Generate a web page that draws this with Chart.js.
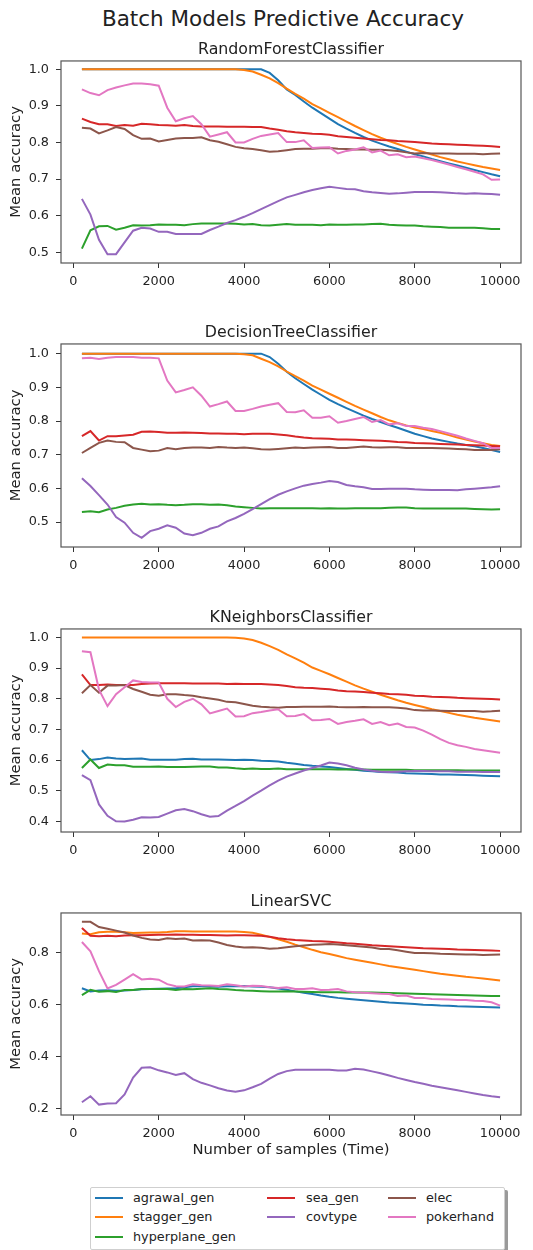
<!DOCTYPE html>
<html>
<head>
<meta charset="utf-8">
<script src="https://cdn.jsdelivr.net/npm/chart.js@4.4.1/dist/chart.umd.min.js"></script>
<style>
  html, body { margin: 0; padding: 0; background: #fff; }
  body { position: relative; width: 533px; height: 1250px; overflow: hidden; font-family: "DejaVu Sans", sans-serif; color: #222; }
  #suptitle { position: absolute; left: 0; top: 6px; width: 566px; text-align: center; font-size: 21.5px; line-height: 25px; }
  #legend { position: absolute; left: 90px; top: 1187px; width: 413px; height: 61px; border: 1px solid #cfcfcf; border-radius: 2px; box-shadow: 3px 3px 0 #9a9a9a; background: #fff; }
  .item { position: absolute; font-size: 12.8px; line-height: 16px; white-space: nowrap; }
  .swatch { position: absolute; width: 28px; height: 2px; }
</style>
</head>
<body>
<div id="suptitle">Batch Models Predictive Accuracy</div>
<div id="legend"></div>
<script>
// Four stacked panels (one per classifier), seven streams each, sampled every 200 rows.
const SAMPLES = [200, 400, 600, 800, 1000, 1200, 1400, 1600, 1800, 2000,
  2200, 2400, 2600, 2800, 3000, 3200, 3400, 3600, 3800, 4000,
  4200, 4400, 4600, 4800, 5000, 5200, 5400, 5600, 5800, 6000,
  6200, 6400, 6600, 6800, 7000, 7200, 7400, 7600, 7800, 8000,
  8200, 8400, 8600, 8800, 9000, 9200, 9400, 9600, 9800, 10000];
const STREAMS = ["agrawal_gen", "stagger_gen", "hyperplane_gen", "sea_gen", "covtype", "elec", "pokerhand"];
const X_TICKS = [0, 2000, 4000, 6000, 8000, 10000];

// RandomForestClassifier
const rfAgrawal = [1, 1, 1, 1, 1, 1, 1, 1, 1, 1, 1, 1, 1, 1, 1, 1, 1, 1, 1, 1, 1, 1,
  0.99, 0.97, 0.945, 0.93, 0.912, 0.895, 0.88, 0.865, 0.85, 0.838, 0.826, 0.815, 0.805, 0.797,
  0.789, 0.782, 0.775, 0.768, 0.762, 0.755, 0.749, 0.743, 0.737, 0.731, 0.725, 0.719, 0.713, 0.708];
const rfStagger = [1, 1, 1, 1, 1, 1, 1, 1, 1, 1, 1, 1, 1, 1, 1, 1, 1, 1, 1,
  0.998, 0.994, 0.985, 0.975, 0.962, 0.947, 0.933, 0.92, 0.905, 0.893, 0.881, 0.869, 0.857, 0.845,
  0.834, 0.823, 0.813, 0.804, 0.796, 0.788, 0.781, 0.774, 0.767, 0.76, 0.754, 0.748, 0.743, 0.738,
  0.733, 0.729, 0.725];
const rfHyperplane = [0.51, 0.56, 0.571, 0.572, 0.562, 0.567, 0.574, 0.573, 0.574, 0.576,
  0.575, 0.575, 0.574, 0.577, 0.579, 0.579, 0.579, 0.579, 0.578, 0.576,
  0.577, 0.574, 0.573, 0.575, 0.577, 0.575, 0.575, 0.575, 0.574, 0.576,
  0.575, 0.575, 0.576, 0.576, 0.577, 0.578, 0.575, 0.574, 0.573, 0.573,
  0.571, 0.57, 0.569, 0.567, 0.567, 0.567, 0.567, 0.566, 0.564, 0.564];
const rfSea = [0.865, 0.856, 0.85, 0.85, 0.845, 0.848, 0.846, 0.851, 0.85, 0.848,
  0.847, 0.846, 0.848, 0.845, 0.844, 0.844, 0.844, 0.843, 0.843, 0.843,
  0.842, 0.842, 0.838, 0.835, 0.831, 0.828, 0.826, 0.824, 0.823, 0.821,
  0.817, 0.815, 0.813, 0.811, 0.809, 0.807, 0.806, 0.804, 0.803, 0.801,
  0.799, 0.797, 0.796, 0.795, 0.794, 0.793, 0.792, 0.791, 0.79, 0.788];
const rfCovtype = [0.646, 0.603, 0.534, 0.495, 0.495, 0.527, 0.559, 0.567, 0.565, 0.556,
  0.556, 0.55, 0.55, 0.55, 0.55, 0.561, 0.57, 0.58, 0.588, 0.597,
  0.607, 0.618, 0.629, 0.64, 0.65, 0.657, 0.664, 0.67, 0.675, 0.679,
  0.676, 0.673, 0.672, 0.667, 0.664, 0.662, 0.66, 0.661, 0.663, 0.665,
  0.665, 0.665, 0.664, 0.663, 0.661, 0.66, 0.661, 0.66, 0.659, 0.657];
const rfElec = [0.84, 0.838, 0.825, 0.833, 0.842, 0.837, 0.82, 0.81, 0.811, 0.803,
  0.807, 0.811, 0.812, 0.812, 0.814, 0.806, 0.802, 0.795, 0.788, 0.784,
  0.782, 0.779, 0.775, 0.776, 0.779, 0.782, 0.783, 0.783, 0.784, 0.785,
  0.783, 0.782, 0.781, 0.781, 0.78, 0.78, 0.779, 0.777, 0.773, 0.77,
  0.771, 0.77, 0.77, 0.77, 0.769, 0.769, 0.769, 0.768, 0.769, 0.77];
const rfPoker = [0.945, 0.935, 0.929, 0.943, 0.95, 0.956, 0.961, 0.961, 0.959, 0.955,
  0.895, 0.858, 0.866, 0.872, 0.85, 0.816, 0.822, 0.828, 0.8, 0.8,
  0.81, 0.818, 0.822, 0.826, 0.801, 0.801, 0.806, 0.785, 0.786, 0.787,
  0.77, 0.777, 0.781, 0.787, 0.773, 0.778, 0.765, 0.768, 0.76, 0.762,
  0.757, 0.752, 0.746, 0.74, 0.733, 0.727, 0.72, 0.713, 0.698, 0.699];

// DecisionTreeClassifier
const dtAgrawal = [1, 1, 1, 1, 1, 1, 1, 1, 1, 1, 1, 1, 1, 1, 1, 1, 1, 1, 1, 1, 1, 1,
  0.99, 0.97, 0.946, 0.927, 0.91, 0.893, 0.878, 0.863, 0.85, 0.838, 0.827, 0.816, 0.806, 0.797,
  0.788, 0.78, 0.771, 0.762, 0.755, 0.748, 0.743, 0.738, 0.733, 0.729, 0.725, 0.72, 0.714, 0.708];
const dtStagger = [1, 1, 1, 1, 1, 1, 1, 1, 1, 1, 1, 1, 1, 1, 1, 1, 1, 1, 1,
  0.998, 0.995, 0.985, 0.975, 0.962, 0.947, 0.933, 0.92, 0.905, 0.893, 0.881, 0.869, 0.857, 0.845,
  0.834, 0.823, 0.812, 0.802, 0.794, 0.787, 0.781, 0.776, 0.77, 0.765, 0.758, 0.751, 0.745, 0.739,
  0.734, 0.729, 0.726];
const dtHyperplane = [0.53, 0.532, 0.529, 0.537, 0.542, 0.548, 0.552, 0.554, 0.552, 0.553,
  0.551, 0.55, 0.551, 0.553, 0.553, 0.551, 0.552, 0.55, 0.546, 0.544,
  0.542, 0.54, 0.541, 0.541, 0.541, 0.541, 0.541, 0.541, 0.54, 0.541,
  0.54, 0.54, 0.541, 0.541, 0.541, 0.541, 0.542, 0.543, 0.543, 0.541,
  0.54, 0.54, 0.54, 0.54, 0.54, 0.54, 0.539, 0.538, 0.537, 0.538];
const dtSea = [0.755, 0.77, 0.742, 0.755, 0.755, 0.757, 0.759, 0.768, 0.769, 0.767,
  0.765, 0.765, 0.766, 0.765, 0.764, 0.763, 0.763, 0.762, 0.762, 0.761,
  0.762, 0.762, 0.762, 0.76, 0.758, 0.754, 0.751, 0.749, 0.748, 0.747,
  0.745, 0.745, 0.744, 0.743, 0.742, 0.741, 0.74, 0.738, 0.737, 0.735,
  0.734, 0.733, 0.732, 0.731, 0.73, 0.729, 0.728, 0.727, 0.726, 0.725];
const dtCovtype = [0.63, 0.607, 0.58, 0.552, 0.515, 0.498, 0.468, 0.453, 0.473, 0.48,
  0.49, 0.483, 0.466, 0.461, 0.468, 0.48, 0.487, 0.502, 0.512, 0.524,
  0.538, 0.553, 0.568, 0.581, 0.591, 0.6, 0.608, 0.613, 0.617, 0.622,
  0.619, 0.61, 0.606, 0.603, 0.598, 0.598, 0.599, 0.599, 0.599, 0.597,
  0.596, 0.595, 0.595, 0.595, 0.594, 0.597, 0.599, 0.601, 0.603, 0.606];
const dtElec = [0.705, 0.72, 0.735, 0.742, 0.738, 0.737, 0.72, 0.715, 0.71, 0.712,
  0.72, 0.716, 0.72, 0.721, 0.721, 0.72, 0.723, 0.721, 0.72, 0.721,
  0.719, 0.716, 0.715, 0.717, 0.719, 0.721, 0.72, 0.721, 0.722, 0.723,
  0.72, 0.72, 0.722, 0.724, 0.722, 0.721, 0.722, 0.722, 0.72, 0.72,
  0.72, 0.72, 0.719, 0.718, 0.717, 0.716, 0.714, 0.714, 0.714, 0.716];
const dtPoker = [0.986, 0.988, 0.984, 0.988, 0.99, 0.99, 0.99, 0.988, 0.988, 0.986,
  0.92, 0.885, 0.892, 0.9, 0.875, 0.843, 0.85, 0.858, 0.83, 0.83,
  0.836, 0.843, 0.848, 0.853, 0.827, 0.826, 0.832, 0.81, 0.81, 0.814,
  0.795, 0.8, 0.806, 0.812, 0.797, 0.803, 0.79, 0.793, 0.785, 0.785,
  0.78, 0.776, 0.77, 0.763, 0.756, 0.748, 0.741, 0.734, 0.72, 0.72];

// KNeighborsClassifier
const knAgrawal = [0.632, 0.6, 0.603, 0.608, 0.605, 0.603, 0.604, 0.605, 0.601, 0.601,
  0.601, 0.601, 0.603, 0.604, 0.602, 0.602, 0.602, 0.601, 0.6, 0.601,
  0.6, 0.598, 0.597, 0.595, 0.591, 0.588, 0.584, 0.581, 0.579, 0.577,
  0.574, 0.571, 0.568, 0.565, 0.563, 0.561, 0.56, 0.559, 0.557, 0.556,
  0.555, 0.554, 0.553, 0.553, 0.552, 0.551, 0.55, 0.549, 0.548, 0.547];
const knStagger = [1, 1, 1, 1, 1, 1, 1, 1, 1, 1, 1, 1, 1, 1, 1, 1, 1, 1,
  0.999, 0.997, 0.992, 0.983, 0.972, 0.96, 0.945, 0.932, 0.918, 0.902,
  0.891, 0.88, 0.868, 0.856, 0.844, 0.833, 0.823, 0.813, 0.804, 0.795,
  0.787, 0.78, 0.773, 0.766, 0.76, 0.754, 0.748, 0.743, 0.738, 0.734, 0.73, 0.726];
const knHyperplane = [0.574, 0.602, 0.574, 0.585, 0.583, 0.583, 0.578, 0.578, 0.578, 0.579,
  0.577, 0.577, 0.577, 0.578, 0.579, 0.579, 0.576, 0.576, 0.573, 0.571,
  0.572, 0.571, 0.571, 0.572, 0.57, 0.57, 0.57, 0.57, 0.57, 0.57,
  0.569, 0.569, 0.569, 0.569, 0.568, 0.568, 0.568, 0.568, 0.568, 0.567,
  0.567, 0.567, 0.567, 0.567, 0.567, 0.566, 0.566, 0.566, 0.566, 0.566];
const knSea = [0.88, 0.845, 0.845, 0.847, 0.845, 0.845, 0.845, 0.848, 0.85, 0.851,
  0.851, 0.851, 0.851, 0.85, 0.85, 0.85, 0.85, 0.848, 0.849, 0.848,
  0.848, 0.848, 0.847, 0.845, 0.842, 0.838, 0.836, 0.835, 0.833, 0.831,
  0.827, 0.825, 0.824, 0.822, 0.82, 0.818, 0.816, 0.815, 0.813, 0.81,
  0.809, 0.807, 0.806, 0.805, 0.803, 0.802, 0.801, 0.8, 0.799, 0.798];
const knCovtype = [0.551, 0.534, 0.455, 0.418, 0.4, 0.399, 0.405, 0.413, 0.412, 0.414,
  0.425, 0.436, 0.44, 0.433, 0.423, 0.415, 0.417, 0.435, 0.45, 0.466,
  0.484, 0.5, 0.517, 0.533, 0.546, 0.556, 0.566, 0.574, 0.582, 0.592,
  0.589, 0.583, 0.575, 0.569, 0.565, 0.562, 0.561, 0.562, 0.563, 0.564,
  0.564, 0.563, 0.563, 0.563, 0.562, 0.562, 0.562, 0.561, 0.561, 0.561];
const knElec = [0.818, 0.845, 0.82, 0.843, 0.843, 0.845, 0.832, 0.823, 0.813, 0.81,
  0.815, 0.815, 0.812, 0.81, 0.805, 0.801, 0.797, 0.79, 0.789, 0.783,
  0.777, 0.774, 0.772, 0.771, 0.773, 0.773, 0.774, 0.774, 0.774, 0.775,
  0.773, 0.772, 0.772, 0.773, 0.772, 0.772, 0.772, 0.771, 0.768, 0.763,
  0.762, 0.762, 0.761, 0.76, 0.76, 0.76, 0.76, 0.758, 0.759, 0.761];
const knPoker = [0.955, 0.952, 0.83, 0.776, 0.815, 0.838, 0.86, 0.855, 0.853, 0.853,
  0.8, 0.773, 0.79, 0.8, 0.782, 0.752, 0.76, 0.768, 0.742, 0.743,
  0.753, 0.757, 0.762, 0.766, 0.743, 0.744, 0.75, 0.73, 0.731, 0.734,
  0.718, 0.724, 0.728, 0.733, 0.718, 0.724, 0.714, 0.719, 0.708, 0.706,
  0.696, 0.683, 0.668, 0.656, 0.648, 0.643, 0.636, 0.632, 0.628, 0.624];

// LinearSVC
const svcAgrawal = [0.664, 0.652, 0.655, 0.656, 0.654, 0.655, 0.657, 0.66, 0.661, 0.662,
  0.663, 0.664, 0.668, 0.672, 0.672, 0.671, 0.67, 0.672, 0.672, 0.673,
  0.671, 0.67, 0.668, 0.663, 0.658, 0.652, 0.647, 0.642, 0.636, 0.631,
  0.627, 0.624, 0.621, 0.618, 0.615, 0.612, 0.609, 0.607, 0.605, 0.603,
  0.601, 0.6, 0.598, 0.597, 0.595, 0.594, 0.593, 0.592, 0.591, 0.59];
const svcStagger = [0.875, 0.872, 0.88, 0.882, 0.882, 0.88, 0.877, 0.878, 0.879, 0.879,
  0.881, 0.884, 0.884, 0.883, 0.883, 0.883, 0.883, 0.883, 0.883, 0.881,
  0.878, 0.87, 0.862, 0.853, 0.843, 0.832, 0.822, 0.812, 0.803, 0.796,
  0.788, 0.78, 0.774, 0.768, 0.762, 0.756, 0.75, 0.745, 0.74, 0.735,
  0.73, 0.725, 0.72, 0.716, 0.712, 0.708, 0.705, 0.702, 0.698, 0.694];
const svcHyperplane = [0.638, 0.658, 0.651, 0.653, 0.65, 0.657, 0.657, 0.661, 0.661, 0.661,
  0.661, 0.657, 0.661, 0.66, 0.662, 0.664, 0.661, 0.66, 0.657, 0.655,
  0.654, 0.653, 0.652, 0.652, 0.653, 0.652, 0.651, 0.65, 0.649, 0.649,
  0.649, 0.648, 0.648, 0.648, 0.648, 0.647, 0.646, 0.645, 0.644, 0.643,
  0.642, 0.641, 0.64, 0.639, 0.638, 0.637, 0.636, 0.635, 0.634, 0.634];
const svcSea = [0.896, 0.866, 0.864, 0.866, 0.864, 0.867, 0.868, 0.868, 0.869, 0.87,
  0.87, 0.871, 0.87, 0.87, 0.869, 0.869, 0.868, 0.867, 0.868, 0.868,
  0.867, 0.866, 0.862, 0.857, 0.853, 0.85, 0.848, 0.846, 0.845, 0.843,
  0.84, 0.837, 0.835, 0.833, 0.83, 0.828, 0.826, 0.824, 0.822, 0.82,
  0.818, 0.817, 0.816, 0.815, 0.813, 0.812, 0.811, 0.81, 0.809, 0.808];
const svcCovtype = [0.225, 0.248, 0.216, 0.22, 0.221, 0.255, 0.32, 0.358, 0.36, 0.348,
  0.34, 0.33, 0.337, 0.314, 0.3, 0.29, 0.279, 0.27, 0.266, 0.271,
  0.283, 0.296, 0.316, 0.334, 0.345, 0.35, 0.35, 0.35, 0.35, 0.35,
  0.347, 0.347, 0.354, 0.351, 0.344, 0.337, 0.328, 0.319, 0.311, 0.303,
  0.296, 0.289, 0.283, 0.277, 0.271, 0.265, 0.259, 0.253, 0.248, 0.244];
const svcElec = [0.92, 0.92, 0.9, 0.893, 0.886, 0.879, 0.867, 0.858, 0.852, 0.85,
  0.857, 0.854, 0.856, 0.848, 0.849, 0.848, 0.84, 0.831, 0.825, 0.821,
  0.822, 0.82, 0.816, 0.818, 0.822, 0.826, 0.829, 0.832, 0.833, 0.834,
  0.833, 0.83, 0.827, 0.824, 0.821, 0.815, 0.815, 0.81, 0.805, 0.8,
  0.8, 0.799, 0.797, 0.796, 0.795, 0.794, 0.794, 0.792, 0.793, 0.794];
const svcPoker = [0.842, 0.806, 0.73, 0.663, 0.677, 0.697, 0.718, 0.698, 0.701, 0.697,
  0.68, 0.672, 0.671, 0.679, 0.676, 0.675, 0.673, 0.679, 0.676, 0.671,
  0.674, 0.673, 0.668, 0.665, 0.668, 0.661, 0.661, 0.664, 0.657, 0.658,
  0.661, 0.652, 0.649, 0.647, 0.645, 0.643, 0.642, 0.634, 0.636, 0.627,
  0.627, 0.623, 0.622, 0.621, 0.619, 0.619, 0.616, 0.615, 0.61, 0.597];

const rfTicks = [0.5, 0.6, 0.7, 0.8, 0.9, 1.0];
const dtTicks = [0.5, 0.6, 0.7, 0.8, 0.9, 1.0];
const knTicks = [0.4, 0.5, 0.6, 0.7, 0.8, 0.9, 1.0];
const svcTicks = [0.2, 0.4, 0.6, 0.8];

// tab10, in stream order
const COLORS = ["#1f77b4", "#ff7f0e", "#2ca02c", "#d62728", "#9467bd", "#8c564b", "#e377c2"];
const FONT = "DejaVu Sans";
const INK = "#222";
const SPINE = "#555";

// matplotlib-style box round the axes, drawn over the lines like the spines are
const frame = {
  id: "frame",
  afterDatasetsDraw(chart) {
    const { ctx, chartArea: a } = chart;
    ctx.save();
    ctx.strokeStyle = SPINE;
    ctx.lineWidth = 1.2;
    ctx.strokeRect(a.left, a.top, a.right - a.left, a.bottom - a.top);
    ctx.restore();
  },
};

const panels = [
  { title: "RandomForestClassifier", top: 39, h: 254, xh: 30, yMin: 0.4708, yMax: 1.0227, ticks: rfTicks,
    series: [rfAgrawal, rfStagger, rfHyperplane, rfSea, rfCovtype, rfElec, rfPoker] },
  { title: "DecisionTreeClassifier", top: 322, h: 255, xh: 30, yMin: 0.4258, yMax: 1.0288, ticks: dtTicks,
    series: [dtAgrawal, dtStagger, dtHyperplane, dtSea, dtCovtype, dtElec, dtPoker] },
  { title: "KNeighborsClassifier", top: 607, h: 255, xh: 30, yMin: 0.365, yMax: 1.028, ticks: knTicks,
    series: [knAgrawal, knStagger, knHyperplane, knSea, knCovtype, knElec, knPoker] },
  { title: "LinearSVC", top: 891, h: 270, xh: 46, yMin: 0.176, yMax: 0.954, ticks: svcTicks,
    series: [svcAgrawal, svcStagger, svcHyperplane, svcSea, svcCovtype, svcElec, svcPoker],
    xlabel: "Number of samples (Time)" },
];

const tickFont = { family: FONT, size: 12.8 };
const labelFont = { family: FONT, size: 14.8 };
const marks = { drawOnChartArea: false, drawTicks: true, tickLength: 5, color: "#333", tickWidth: 1 };

function drawPanel(p) {
  const canvas = document.createElement("canvas");
  canvas.width = 533;
  canvas.height = p.h;
  canvas.style.cssText = `position:absolute;left:0;top:${p.top}px;width:533px;height:${p.h}px`;
  document.body.appendChild(canvas);

  const datasets = p.series.map((vals, i) => ({
    label: STREAMS[i],
    data: SAMPLES.map((x, j) => ({ x, y: vals[j] })),
    borderColor: COLORS[i],
    backgroundColor: COLORS[i],
    borderWidth: 2,
    pointRadius: 0,
    tension: 0,
    fill: false,
    order: STREAMS.length - i,   // later streams on top, as in matplotlib
  }));

  new Chart(canvas, {
    type: "line",
    data: { datasets },
    plugins: [frame],
    options: {
      responsive: false, devicePixelRatio: 1, animation: false,
      layout: { padding: { left: 0, right: 12, top: 0, bottom: 0 } },
      plugins: {
        legend: { display: false },
        tooltip: { enabled: false },
        // fullSize off: the title centres over the plot box, not the canvas
        title: { display: true, fullSize: false, text: p.title, color: INK,
                 font: { family: FONT, size: 15.8, weight: "normal" },
                 padding: { top: 1.5, bottom: 1.5 } },
      },
      scales: {
        x: {
          type: "linear", min: -290, max: 10490,
          afterBuildTicks: s => { s.ticks = X_TICKS.map(v => ({ value: v })); },
          afterFit: s => { s.height = p.xh; },
          ticks: { color: INK, font: tickFont, padding: 5.5, maxRotation: 0, autoSkip: false,
                   callback: v => String(v) },
          grid: marks,
          border: { display: false },
          title: p.xlabel
            ? { display: true, text: p.xlabel, color: INK, font: labelFont, padding: { top: 0, bottom: 2 } }
            : { display: false },
        },
        y: {
          min: p.yMin, max: p.yMax,
          afterBuildTicks: s => { s.ticks = p.ticks.map(v => ({ value: v })); },
          afterFit: s => { s.width = 61; },
          ticks: { color: INK, font: tickFont, padding: 7, autoSkip: false,
                   callback: v => v.toFixed(1) },
          grid: marks,
          border: { display: false },
          title: { display: true, text: "Mean accuracy", color: INK, font: labelFont,
                   padding: { top: 7, bottom: 0 } },
        },
      },
    },
  });
}

panels.forEach(drawPanel);

// legend: three columns, filled column by column like matplotlib's ncol=3
const legend = document.getElementById("legend");
const colX = [[4, 42], [176, 215], [297, 335]];
const rowY = [10, 29, 49];
const layout = [[0, 0], [0, 1], [0, 2], [1, 0], [1, 1], [2, 0], [2, 1]];
STREAMS.forEach((name, i) => {
  const [c, r] = layout[i];
  const sw = document.createElement("div");
  sw.className = "swatch";
  sw.style.cssText = `left:${colX[c][0]}px;top:${rowY[r] - 1}px;background:${COLORS[i]}`;
  const tx = document.createElement("div");
  tx.className = "item";
  tx.style.cssText = `left:${colX[c][1]}px;top:${rowY[r] - 8}px`;
  tx.textContent = name;
  legend.appendChild(sw);
  legend.appendChild(tx);
});
</script>
</body>
</html>
